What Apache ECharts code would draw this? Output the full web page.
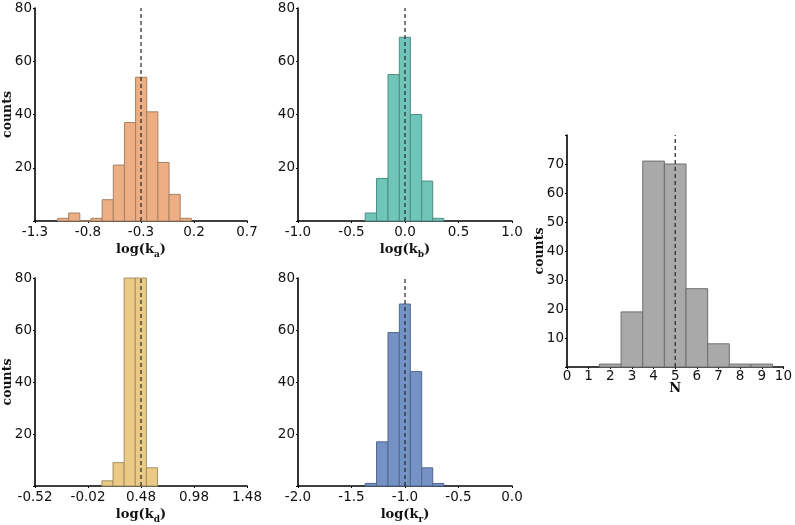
<!DOCTYPE html>
<html><head><meta charset="utf-8">
<script src="https://cdn.jsdelivr.net/npm/echarts@6/dist/echarts.min.js"></script>
<style>html,body{margin:0;padding:0;background:#fff}#c{width:795px;height:525px}</style>
</head><body><div id="c"></div>
<script>
// ---- data ----
const kaEdges = [-1.0875,-0.9823,-0.8771,-0.7719,-0.6667,-0.5615,-0.4563,-0.3510,-0.2458,-0.1406,-0.0354,0.0698,0.175];
const kaCounts = [1,3,0,1,8,21,37,54,41,22,10,1];
const kaTicks = [-1.3,-0.8,-0.3,0.2,0.7];
const kaMean = -0.3;

const kbEdges = [-0.372,-0.266,-0.159,-0.053,0.050,0.156,0.259,0.3625];
const kbCounts = [3,16,55,69,40,15,1];
const kbTicks = [-1.0,-0.5,0.0,0.5,1.0];
const kbMean = 0.0;

const kdEdges = [0.111,0.216,0.321,0.426,0.531,0.636];
const kdCounts = [2,9,96,85,7];
const kdTicks = [-0.52,-0.02,0.48,0.98,1.48];
const kdMean = 0.48;

const krEdges = [-1.372,-1.266,-1.159,-1.053,-0.950,-0.844,-0.741,-0.6375];
const krCounts = [1,17,59,70,44,7,1];
const krTicks = [-2.0,-1.5,-1.0,-0.5,0.0];
const krMean = -1.0;

const nEdges = [1.5,2.5,3.5,4.5,5.5,6.5,7.5,8.5,9.5];
const nCounts = [1,19,71,70,27,8,1,1];
const nTicks = [0,1,2,3,4,5,6,7,8,9,10];
const nMean = 5;

// ---- build ----
const panels = [
  {edges:kaEdges,counts:kaCounts,ticks:kaTicks,mean:kaMean,dec:1,sub:'a',fill:'#ECAE82',edge:'#A88064',
   grid:{left:34,top:8,width:213,height:213},ymax:80,yint:20,ylab:'counts'},
  {edges:kbEdges,counts:kbCounts,ticks:kbTicks,mean:kbMean,dec:1,sub:'b',fill:'#6FC6B8',edge:'#4F8C82',
   grid:{left:298,top:8,width:214,height:213},ymax:80,yint:20,ylab:''},
  {edges:kdEdges,counts:kdCounts,ticks:kdTicks,mean:kdMean,dec:2,sub:'d',fill:'#EBCA86',edge:'#A69064',
   grid:{left:34,top:278,width:213,height:213},ymax:80,yint:20,ylab:'counts'},
  {edges:krEdges,counts:krCounts,ticks:krTicks,mean:krMean,dec:1,sub:'r',fill:'#7592C6',edge:'#53678C',
   grid:{left:298,top:278,width:214,height:213},ymax:80,yint:20,ylab:''},
  {edges:nEdges,counts:nCounts,ticks:nTicks,mean:nMean,dec:0,sub:null,fill:'#A9A9A9',edge:'#6E6E6E',
   grid:{left:567,top:135,width:220,height:232},ymax:80,yint:10,ylab:'counts'}
];

const tickFont = {fontFamily:'DejaVu Sans',fontSize:13.5,color:'#111'};
const grids=[],xAxes=[],yAxes=[],series=[];
panels.forEach((p,i)=>{
  grids.push(p.grid);
  const xmin=p.ticks[0], xmax=p.ticks[p.ticks.length-1];
  const nameRich = {
    n:{fontFamily:'DejaVu Serif',fontWeight:'bold',fontSize:13,color:'#111',lineHeight:18,verticalAlign:'middle'},
    s:{fontFamily:'DejaVu Serif',fontWeight:'bold',fontSize:9,color:'#111',lineHeight:10,verticalAlign:'bottom'}
  };
  xAxes.push({
    gridIndex:i,type:'value',min:xmin,max:xmax,
    name: p.sub ? '{n|log(k}{s|'+p.sub+'}{n|)}' : '{n|N}',
    nameLocation:'middle',nameGap: p.sub?20:13,nameMoveOverlap:false,
    nameTextStyle:{rich:nameRich,verticalAlign:'top'},
    axisLine:{show:true,onZero:false,lineStyle:{color:'#000',width:1.6}},
    axisTick:{show:true,length:2,customValues:p.ticks,lineStyle:{color:'#000'}},
    axisLabel:Object.assign({customValues:p.ticks,margin: p.sub?4:2,
      formatter:v=>Number(v).toFixed(p.dec)},tickFont),
    splitLine:{show:false}
  });
  yAxes.push({
    gridIndex:i,type:'value',min:0,max:p.ymax,interval:p.yint,
    name:p.ylab,nameLocation:'middle',nameGap:21,nameRotate:90,nameMoveOverlap:false,
    nameTextStyle:{fontFamily:'DejaVu Serif',fontWeight:'bold',fontSize:12.5,color:'#111'},
    axisLine:{show:true,onZero:false,lineStyle:{color:'#000',width:1.6}},
    axisTick:{show:true,length:2,lineStyle:{color:'#000'}},
    axisLabel:Object.assign({margin:3,formatter:v=>(v===0||v===p.ymax&&p.yint===10)?'':String(v)},tickFont),
    splitLine:{show:false}
  });
  const data = p.counts.map((c,k)=>[p.edges[k],p.edges[k+1],c]);
  series.push({
    type:'custom',xAxisIndex:i,yAxisIndex:i,data:data,encode:{x:[0,1],y:2},
    renderItem:(params,api)=>{
      const a=api.coord([api.value(0),api.value(2)]);
      const b=api.coord([api.value(1),0]);
      const cs=params.coordSys;
      const r=echarts.graphic.clipRectByRect({x:a[0],y:a[1],width:b[0]-a[0],height:b[1]-a[1]},
        {x:cs.x,y:cs.y,width:cs.width,height:cs.height});
      if(!r) return null;
      return {type:'rect',shape:r,style:{fill:p.fill,stroke:p.edge,lineWidth:1}};
    }
  });
  series.push({
    type:'line',xAxisIndex:i,yAxisIndex:i,data:[[p.mean,0],[p.mean,p.ymax]],
    symbol:'none',silent:true,z:5,
    lineStyle:{color:'#222',width:1.2,type:[4,3]}
  });
});

const chart = echarts.init(document.getElementById('c'),null,{renderer:'canvas'});
chart.setOption({animation:false,backgroundColor:'#fff',grid:grids,xAxis:xAxes,yAxis:yAxes,series:series});
</script></body></html>
